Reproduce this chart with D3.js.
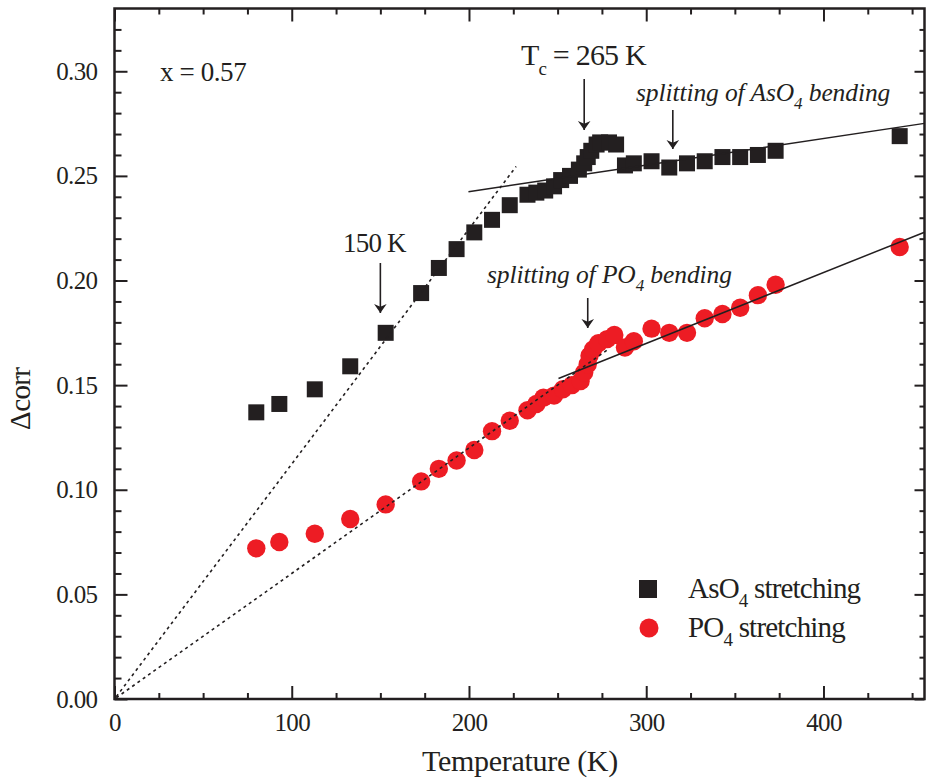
<!DOCTYPE html>
<html>
<head>
<meta charset="utf-8">
<script src="https://cdn.jsdelivr.net/npm/d3@7"></script>
<style>
  html, body { margin: 0; padding: 0; background: #fff; }
  svg { display: block; font-family: "Liberation Serif", "DejaVu Serif", serif; }
</style>
</head>
<body>
<svg id="chart" width="926" height="780"></svg>
<script>
// Temperature (K) and correlation Δcorr for the AsO4 stretching mode
const tempAsO4 = [80, 93, 113, 133, 153, 173, 183, 193, 203, 213, 223, 233, 238, 243, 248, 252, 257, 262, 265, 267, 269, 272, 274, 279, 283, 288, 293, 303, 313, 323, 333, 343, 353, 363, 373, 443];
const corrAsO4 = [0.137, 0.141, 0.148, 0.159, 0.175, 0.194, 0.206, 0.215, 0.223, 0.229, 0.236, 0.241, 0.242, 0.243, 0.245, 0.248, 0.250, 0.253, 0.256, 0.259, 0.262, 0.265, 0.266, 0.266, 0.265, 0.255, 0.256, 0.257, 0.254, 0.256, 0.257, 0.259, 0.259, 0.260, 0.262, 0.269];

// Temperature (K) and Δcorr for the PO4 stretching mode
const tempPO4 = [80, 93, 113, 133, 153, 173, 183, 193, 203, 213, 223, 233, 238, 242, 248, 253, 258, 263, 265, 267, 268, 270, 273, 278, 282, 288, 293, 303, 313, 323, 333, 343, 353, 363, 373, 443];
const corrPO4 = [0.072, 0.075, 0.079, 0.086, 0.093, 0.104, 0.110, 0.114, 0.119, 0.128, 0.133, 0.138, 0.141, 0.144, 0.145, 0.148, 0.150, 0.152, 0.156, 0.160, 0.164, 0.167, 0.170, 0.172, 0.174, 0.168, 0.171, 0.177, 0.175, 0.175, 0.182, 0.184, 0.187, 0.193, 0.198, 0.216];

// Guide lines: low-temperature linear trends (dotted) and high-temperature fits (solid)
const trendAsO4Low = [[1, 0.0011], [226.6, 0.2545]];
const trendPO4Low = [[1, 0.0006], [278, 0.1668]];
const fitAsO4High = [[199.7, 0.2424], [457, 0.2751]];
const fitPO4High = [[250.5, 0.1532], [457, 0.2231]];

// Axis ticks
const xMajorTicks = [0, 100, 200, 300, 400];
const xMinorTicks = [25, 50, 75, 125, 150, 175, 225, 250, 275, 325, 350, 375, 425, 450];
const yMajorTicks = [0.00, 0.05, 0.10, 0.15, 0.20, 0.25, 0.30];
const yMinorTicks = [0.01, 0.02, 0.03, 0.04, 0.06, 0.07, 0.08, 0.09, 0.11, 0.12, 0.13, 0.14,
                     0.16, 0.17, 0.18, 0.19, 0.21, 0.22, 0.23, 0.24, 0.26, 0.27, 0.28, 0.29, 0.31, 0.32];

const ink = "#231f20";
const red = "#ed1c24";

const plotLeft = 114.5, plotRight = 924.5, plotTop = 8.5, plotBottom = 699;
const svg = d3.select("#chart");

const x = d3.scaleLinear().domain([0, 457]).range([plotLeft, plotRight]);
const y = d3.scaleLinear().domain([0, 0.33]).range([plotBottom, plotTop]);

const tickFont = "25px";

// ---- axes (ticks point inward on all four sides) ----
function styleAxis(g) {
  g.select(".domain").remove();
  g.selectAll(".tick line").attr("stroke", ink).attr("stroke-width", 2);
  g.selectAll(".tick text").attr("fill", ink).style("font-size", tickFont)
    .style("letter-spacing", "-0.6px").style("font-family", "'Liberation Serif', serif");
}

svg.append("g").attr("transform", `translate(0,${plotBottom})`)
  .call(d3.axisBottom(x).tickValues(xMajorTicks).tickSize(-13).tickPadding(14).tickFormat(d3.format("d")))
  .call(styleAxis);
svg.append("g").attr("transform", `translate(0,${plotBottom})`)
  .call(d3.axisBottom(x).tickValues(xMinorTicks).tickSize(-6).tickFormat(""))
  .call(styleAxis);
svg.append("g").attr("transform", `translate(0,${plotTop})`)
  .call(d3.axisTop(x).tickValues(xMajorTicks).tickSize(-13).tickFormat(""))
  .call(styleAxis);
svg.append("g").attr("transform", `translate(0,${plotTop})`)
  .call(d3.axisTop(x).tickValues(xMinorTicks).tickSize(-6).tickFormat(""))
  .call(styleAxis);

svg.append("g").attr("transform", `translate(${plotLeft},0)`)
  .call(d3.axisLeft(y).tickValues(yMajorTicks).tickSize(-13).tickPadding(17).tickFormat(d3.format(".2f")))
  .call(styleAxis);
svg.append("g").attr("transform", `translate(${plotLeft},0)`)
  .call(d3.axisLeft(y).tickValues(yMinorTicks).tickSize(-7).tickFormat(""))
  .call(styleAxis);
svg.append("g").attr("transform", `translate(${plotRight},0)`)
  .call(d3.axisRight(y).tickValues(yMajorTicks).tickSize(-10).tickFormat(""))
  .call(styleAxis);
svg.append("g").attr("transform", `translate(${plotRight},0)`)
  .call(d3.axisRight(y).tickValues(yMinorTicks).tickSize(-5).tickFormat(""))
  .call(styleAxis);

// frame
svg.append("rect")
  .attr("x", plotLeft).attr("y", plotTop)
  .attr("width", plotRight - plotLeft).attr("height", plotBottom - plotTop)
  .attr("fill", "none").attr("stroke", ink).attr("stroke-width", 2.5);

// ---- data markers ----
const sq = 16;
svg.append("g").selectAll("rect")
  .data(tempAsO4.map((t, i) => [t, corrAsO4[i]]))
  .join("rect")
  .attr("x", d => x(d[0]) - sq / 2)
  .attr("y", d => y(d[1]) - sq / 2)
  .attr("width", sq).attr("height", sq)
  .attr("fill", ink);

svg.append("g").selectAll("circle")
  .data(tempPO4.map((t, i) => [t, corrPO4[i]]))
  .join("circle")
  .attr("cx", d => x(d[0]))
  .attr("cy", d => y(d[1]))
  .attr("r", 9.2)
  .attr("fill", red);

// ---- guide lines ----
const line = d3.line().x(d => x(d[0])).y(d => y(d[1]));
[trendAsO4Low, trendPO4Low].forEach(seg => {
  svg.append("path").attr("d", line(seg))
    .attr("fill", "none").attr("stroke", ink).attr("stroke-width", 1.6)
    .attr("stroke-dasharray", "3,3.5");
});
[fitAsO4High, fitPO4High].forEach(seg => {
  svg.append("path").attr("d", line(seg))
    .attr("fill", "none").attr("stroke", ink).attr("stroke-width", 1.5);
});

// ---- arrows ----
const defs = svg.append("defs");
defs.append("marker").attr("id", "head")
  .attr("viewBox", "0 0 10 20").attr("refX", 10).attr("refY", 10)
  .attr("markerWidth", 9).attr("markerHeight", 18).attr("markerUnits", "userSpaceOnUse")
  .attr("orient", "auto")
  .append("path").attr("d", "M0,3 L10,10 L0,17 L3,10 Z").attr("fill", ink);

function arrow(xp, y1, y2) {
  svg.append("line").attr("x1", xp).attr("x2", xp).attr("y1", y1).attr("y2", y2)
    .attr("stroke", ink).attr("stroke-width", 1.6).attr("marker-end", "url(#head)");
}
arrow(x(150), 263, 313);
arrow(x(265), 79, 130);
arrow(x(315), 110, 149);
arrow(x(267), 298, 328);

// ---- annotations (subscripts shift down, the following run shifts back) ----
function label(xp, yp, size, parts, opts = {}) {
  const t = svg.append("text").attr("x", xp).attr("y", yp)
    .attr("fill", ink).style("font-size", size + "px")
    .style("letter-spacing", (opts.spacing ?? -0.8) + "px")
    .style("font-style", opts.italic ? "italic" : "normal");
  let back = 0;
  parts.forEach(p => {
    if (typeof p === "string") {
      const s = t.append("tspan").text(p);
      if (back) { s.attr("dy", back); back = 0; }
    } else {
      t.append("tspan").attr("dy", p.dy).style("font-size", p.size + "px").text(p.text);
      back = -p.dy;
    }
  });
  return t;
}

label(160, 81, 27, ["x = 0.57"], { spacing: -0.4 });
label(343, 252, 27, ["150 K"]);
label(521, 65, 30, ["T", { text: "c", size: 19, dy: 10 }, " = 265 K"]);
label(636, 101, 25.5, ["splitting of AsO", { text: "4", size: 17, dy: 8 }, " bending"], { italic: true, spacing: -0.1 });
label(487, 283, 25.5, ["splitting of PO", { text: "4", size: 17, dy: 8 }, " bending"], { italic: true, spacing: -0.1 });

// ---- legend ----
svg.append("rect").attr("x", 648 - 9).attr("y", 589 - 9).attr("width", 18).attr("height", 18).attr("fill", ink);
svg.append("circle").attr("cx", 649).attr("cy", 628).attr("r", 9.5).attr("fill", red);
label(688, 598, 29, ["AsO", { text: "4", size: 19, dy: 9 }, " stretching"]);
label(688, 637, 29, ["PO", { text: "4", size: 19, dy: 9 }, " stretching"]);

// ---- axis titles ----
svg.append("text").attr("x", 520).attr("y", 771)
  .attr("text-anchor", "middle").attr("fill", ink)
  .style("font-size", "30px").style("letter-spacing", "-0.3px")
  .text("Temperature (K)");

svg.append("text")
  .attr("transform", `translate(30,${(plotTop + plotBottom) / 2 + 45}) rotate(-90)`)
  .attr("text-anchor", "middle").attr("fill", ink)
  .style("font-size", "29px").style("letter-spacing", "-0.6px")
  .text("\u0394corr");
</script>
</body>
</html>
